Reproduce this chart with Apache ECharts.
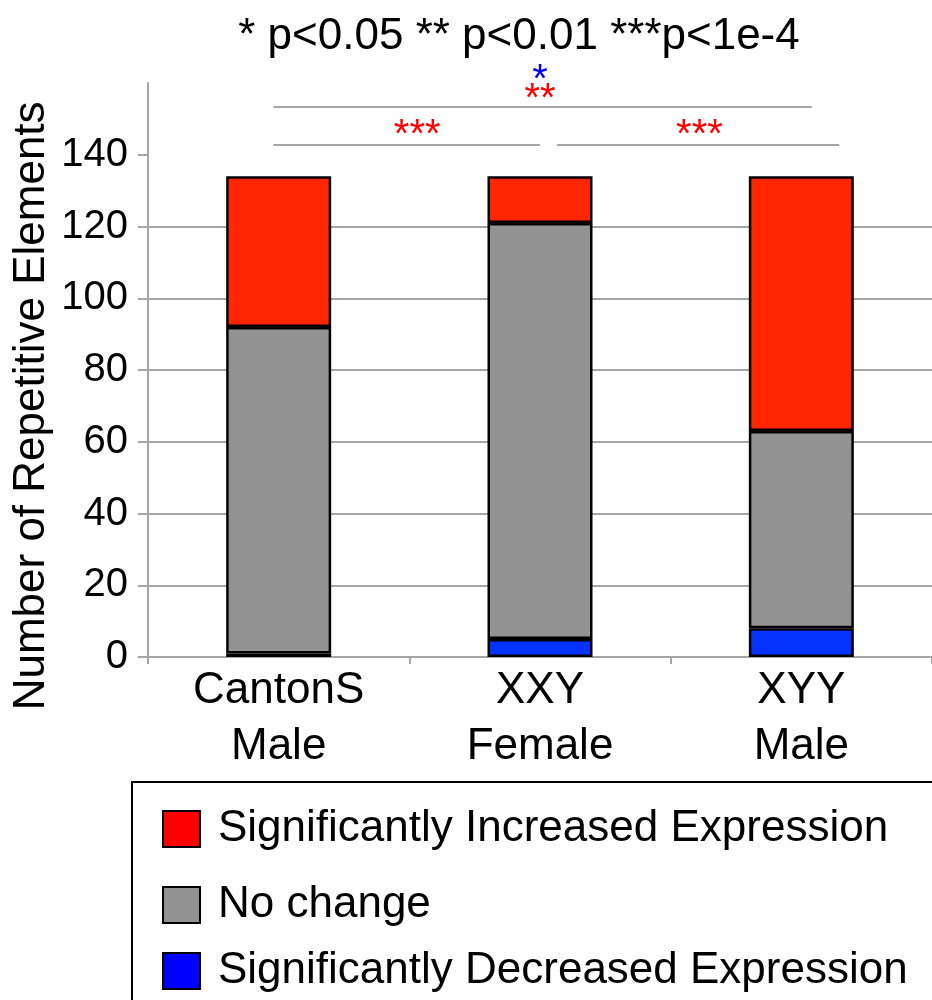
<!DOCTYPE html>
<html>
<head>
<meta charset="utf-8">
<script src="https://cdn.jsdelivr.net/npm/echarts@6/dist/echarts.min.js"></script>
<style>
  html, body { margin: 0; padding: 0; background: #fff; }
  #chart { width: 932px; height: 1000px; }
</style>
</head>
<body>
<div id="chart"></div>
<script>
// ---- data ----
const categories = ['CantonS\nMale', 'XXY\nFemale', 'XYY\nMale'];
const seriesNames = ['Significantly Increased Expression', 'No change', 'Significantly Decreased Expression'];
const increased = [42, 13, 71];
const noChange = [91, 116, 55];
const decreased = [1, 5, 8];
const yTickValues = [0, 20, 40, 60, 80, 100, 120, 140];
const yMax = 160;
const titleText = '* p<0.05 ** p<0.01 ***p<1e-4';
const yAxisTitle = 'Number of Repetitive Elements';
// comparison brackets: [from category position, to category position, level on value axis]
const brackets = [[-0.02, 1.0, 142.7], [1.065, 2.145, 142.7], [-0.02, 2.04, 153.3]];
// significance marks: [text, category position, level on value axis, colour]
const marks = [
  ['***', 0.53, 147.7, '#ff0000'],
  ['***', 1.61, 147.7, '#ff0000'],
  ['**', 1.0, 157.8, '#ff0000'],
  ['*', 1.0, 163.2, '#0000ff']
];

// ---- styling ----
const FONT = '"Liberation Sans", Arial, Helvetica, sans-serif';
const AXIS_GRAY = '#a6a6a6';
const barColors = ['#ff2600', '#929292', '#0433ff'];
const legendColors = ['#ff0000', '#929292', '#0000ff'];
const legendTops = [807, 883, 949];
const barEdge = { borderColor: '#000', borderWidth: 2.5 };

const chart = echarts.init(document.getElementById('chart'), null, { renderer: 'canvas' });

const legendBase = {
  orient: 'vertical',
  left: 162,
  padding: 0,
  icon: 'rect',
  itemWidth: 37,
  itemHeight: 36,
  selectedMode: false,
  itemStyle: { borderColor: '#000', borderWidth: 2 },
  textStyle: { fontSize: 44, fontFamily: FONT, color: '#000', lineHeight: 36, padding: [0, 0, 0, 13] }
};

const option = {
  animation: false,
  backgroundColor: '#fff',
  title: {
    text: titleText,
    left: 519,
    top: 37,
    padding: 0,
    textAlign: 'center',
    textVerticalAlign: 'middle',
    textStyle: { fontSize: 44, fontWeight: 'normal', fontFamily: FONT, color: '#000' }
  },
  legend: seriesNames.map((name, i) => Object.assign({}, legendBase, {
    top: legendTops[i],
    data: [{ name: name, itemStyle: { color: legendColors[i], borderColor: '#000', borderWidth: 2 } }]
  })),
  grid: { left: 148, top: 83, width: 784, height: 574 },
  xAxis: {
    type: 'category',
    data: categories,
    boundaryGap: true,
    axisLine: { lineStyle: { color: AXIS_GRAY, width: 2 } },
    axisTick: { show: true, length: 7, lineStyle: { color: AXIS_GRAY, width: 2 } },
    axisLabel: { fontSize: 44, lineHeight: 56, fontFamily: FONT, color: '#000', margin: 6 }
  },
  yAxis: {
    type: 'value',
    min: 0,
    max: yMax,
    interval: 20,
    axisLine: { show: true, lineStyle: { color: AXIS_GRAY, width: 2 } },
    axisTick: { show: true, length: 10, customValues: yTickValues, lineStyle: { color: AXIS_GRAY, width: 2 } },
    axisLabel: { fontSize: 40, fontFamily: FONT, color: '#000', margin: 20, customValues: yTickValues },
    splitLine: { show: true, showMaxLine: false, lineStyle: { color: AXIS_GRAY, width: 2 } }
  },
  series: [
    { name: seriesNames[2], type: 'bar', stack: 'total', barWidth: 105, data: decreased,
      itemStyle: Object.assign({ color: barColors[2] }, barEdge) },
    { name: seriesNames[1], type: 'bar', stack: 'total', barWidth: 105, data: noChange,
      itemStyle: Object.assign({ color: barColors[1] }, barEdge) },
    { name: seriesNames[0], type: 'bar', stack: 'total', barWidth: 105, data: increased,
      itemStyle: Object.assign({ color: barColors[0] }, barEdge) }
  ]
};

chart.setOption(option);

// ---- annotations placed through the axes ----
const catX0 = chart.convertToPixel({ gridIndex: 0 }, [0, 0])[0];
const catX1 = chart.convertToPixel({ gridIndex: 0 }, [1, 0])[0];
const xAt = (pos) => catX0 + pos * (catX1 - catX0);
const yAt = (v) => chart.convertToPixel({ yAxisIndex: 0 }, v);

const graphics = [];
brackets.forEach(([a, b, v]) => {
  graphics.push({
    type: 'line', silent: true,
    shape: { x1: xAt(a), y1: yAt(v), x2: xAt(b), y2: yAt(v) },
    style: { stroke: AXIS_GRAY, lineWidth: 2 }
  });
});
marks.forEach(([txt, pos, v, color]) => {
  // asterisks sit high in the em box, so the anchor is set a little below the mark centre
  graphics.push({
    type: 'text', silent: true,
    x: xAt(pos), y: yAt(v) + 9,
    style: { text: txt, fill: color, font: '40px ' + FONT, align: 'center', verticalAlign: 'middle',
             textAlign: 'center', textVerticalAlign: 'middle' }
  });
});
// value-axis title
graphics.push({
  type: 'text', silent: true,
  x: 32, y: yAt(70), rotation: Math.PI / 2,
  style: { text: yAxisTitle, fill: '#000', font: '44px ' + FONT, align: 'center', verticalAlign: 'middle',
           textAlign: 'center', textVerticalAlign: 'middle' }
});
// legend frame
graphics.push({
  type: 'rect', silent: true, z: -1,
  shape: { x: 132, y: 782, width: 830, height: 260 },
  style: { fill: null, stroke: '#000', lineWidth: 2 }
});

chart.setOption({ graphic: graphics });
</script>
</body>
</html>
